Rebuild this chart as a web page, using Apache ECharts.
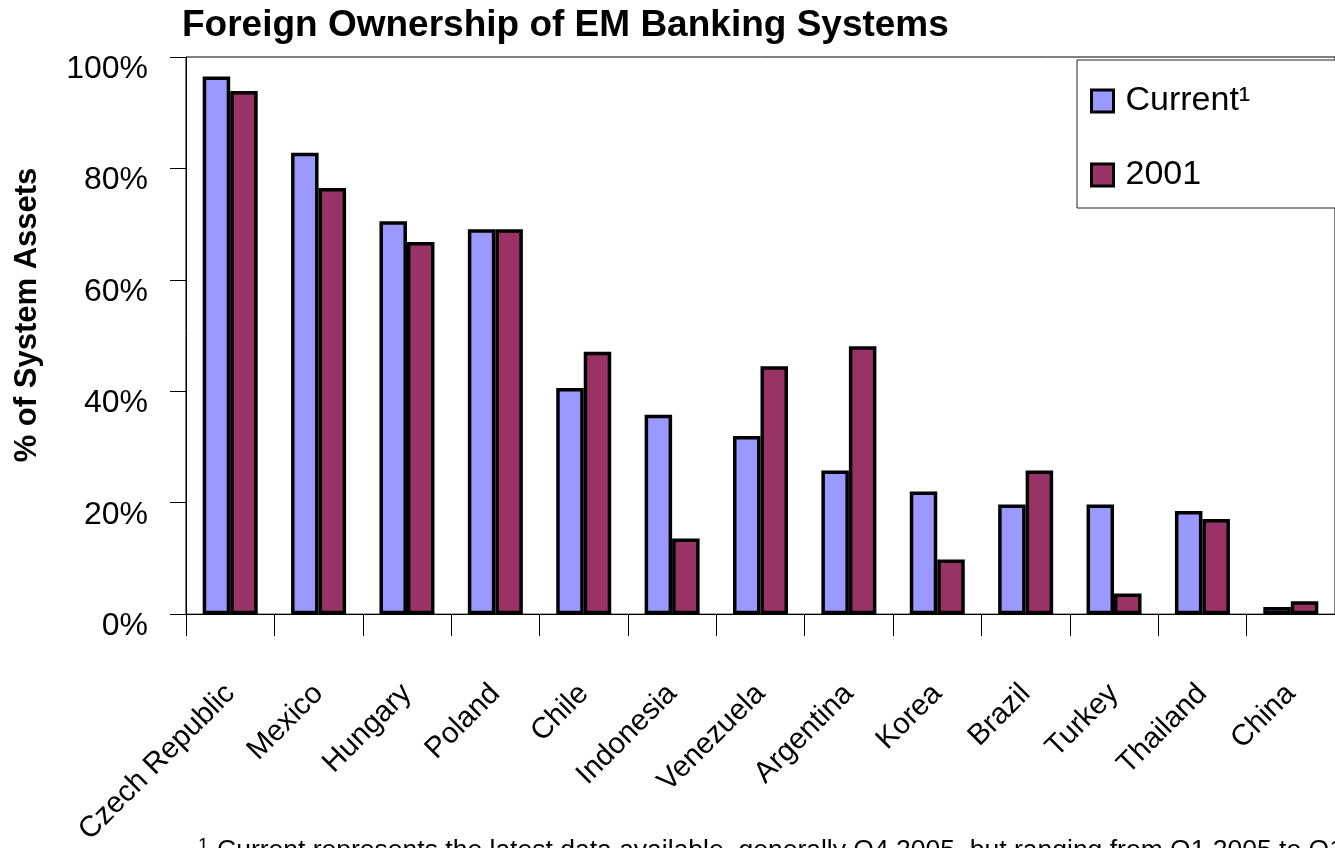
<!DOCTYPE html>
<html>
<head>
<meta charset="utf-8">
<title>Foreign Ownership of EM Banking Systems</title>
<script src="https://cdn.jsdelivr.net/npm/echarts@6/dist/echarts.min.js"></script>
<style>
  html, body { margin: 0; padding: 0; background: #fff; }
  #chart { width: 1335px; height: 848px; }
</style>
</head>
<body>
<div id="chart"></div>
<script>
// data (percent of system assets)
const categories = ['Czech Republic', 'Mexico', 'Hungary', 'Poland', 'Chile', 'Indonesia',
  'Venezuela', 'Argentina', 'Korea', 'Brazil', 'Turkey', 'Thailand', 'China'];
const currentValues = [96.5, 82.8, 70.5, 69.1, 40.6, 35.8, 32.0, 25.8, 22.0, 19.7, 19.7, 18.5, 1.3];
const values2001 = [93.9, 76.5, 66.8, 69.1, 47.1, 13.6, 44.5, 48.1, 9.8, 25.8, 3.7, 17.1, 2.3];
const yTicks = [0, 20, 40, 60, 80, 100];

const FONT = 'Liberation Sans, Arial, Helvetica, sans-serif';

const chart = echarts.init(document.getElementById('chart'), null, { renderer: 'canvas' });

const option = {
  animation: false,
  backgroundColor: '#fff',
  textStyle: { fontFamily: FONT, color: '#000' },
  title: {
    text: 'Foreign Ownership of EM Banking Systems',
    left: 182,
    top: 7,
    padding: 0,
    textStyle: { fontFamily: FONT, fontSize: 37, fontWeight: 'bold', color: '#000' }
  },
  legend: {
    orient: 'vertical',
    left: 1077,
    top: 60,
    padding: [24, 200, 16, 13],
    itemGap: 40,
    itemWidth: 22,
    itemHeight: 22,
    icon: 'rect',
    itemStyle: { borderColor: '#000', borderWidth: 3 },
    borderColor: '#222',
    borderWidth: 1,
    backgroundColor: '#fff',
    textStyle: { fontFamily: FONT, fontSize: 34, color: '#000', padding: [0, 0, 0, 7] }
  },
  // plot runs a little past the right edge, like the cut-off original
  grid: {
    left: 186,
    top: 57,
    right: -16,
    bottom: 233,
    show: true,
    borderColor: '#000',
    borderWidth: 1
  },
  xAxis: {
    type: 'category',
    data: categories,
    axisLine: { lineStyle: { color: '#000', width: 1 } },
    axisTick: { show: true, length: 22, lineStyle: { color: '#000' } },
    axisLabel: {
      rotate: 45,
      margin: 75,
      interval: 0,
      fontFamily: FONT,
      fontSize: 29.5,
      color: '#000'
    }
  },
  yAxis: {
    type: 'value',
    min: yTicks[0],
    max: yTicks[yTicks.length - 1],
    interval: 20,
    axisLine: { show: true, lineStyle: { color: '#000', width: 1 } },
    axisTick: { show: true, length: 16, lineStyle: { color: '#000' } },
    splitLine: { show: false },
    axisLabel: {
      margin: 38,
      color: '#000',
      // labels sit a bit below their ticks in the original
      formatter: '{v|{value}%}',
      rich: {
        v: { fontFamily: FONT, fontSize: 32, color: '#000', padding: [24, 0, 0, 0] }
      }
    }
  },
  series: [
    {
      name: 'Current¹',
      type: 'bar',
      data: currentValues,
      barWidth: 27.5,
      barGap: '0%',
      itemStyle: { color: '#9999FF', borderColor: '#000', borderWidth: 3.5 }
    },
    {
      name: '2001',
      type: 'bar',
      data: values2001,
      barWidth: 27.5,
      barGap: '0%',
      itemStyle: { color: '#993366', borderColor: '#000', borderWidth: 3.5 }
    }
  ],
  graphic: [
    {
      // y axis title
      type: 'text',
      x: 27,
      y: 315,
      rotation: Math.PI / 2,
      style: {
        text: '% of System Assets',
        fontFamily: FONT,
        fontSize: 31,
        fontWeight: 'bold',
        fill: '#000',
        align: 'center',
        verticalAlign: 'middle'
      }
    },
    {
      type: 'text',
      x: 198,
      y: 836,
      style: { text: '1', fontFamily: FONT, fontSize: 19, fill: '#000', verticalAlign: 'top' }
    },
    {
      // footnote, cut off at the bottom edge in the original
      type: 'text',
      x: 217,
      y: 837,
      style: {
        text: 'Current represents the latest data available, generally Q4 2005, but ranging from Q1 2005 to Q1',
        fontFamily: FONT,
        fontSize: 26.5,
        fill: '#000',
        verticalAlign: 'top'
      }
    }
  ]
};

chart.setOption(option, true);
</script>
</body>
</html>
